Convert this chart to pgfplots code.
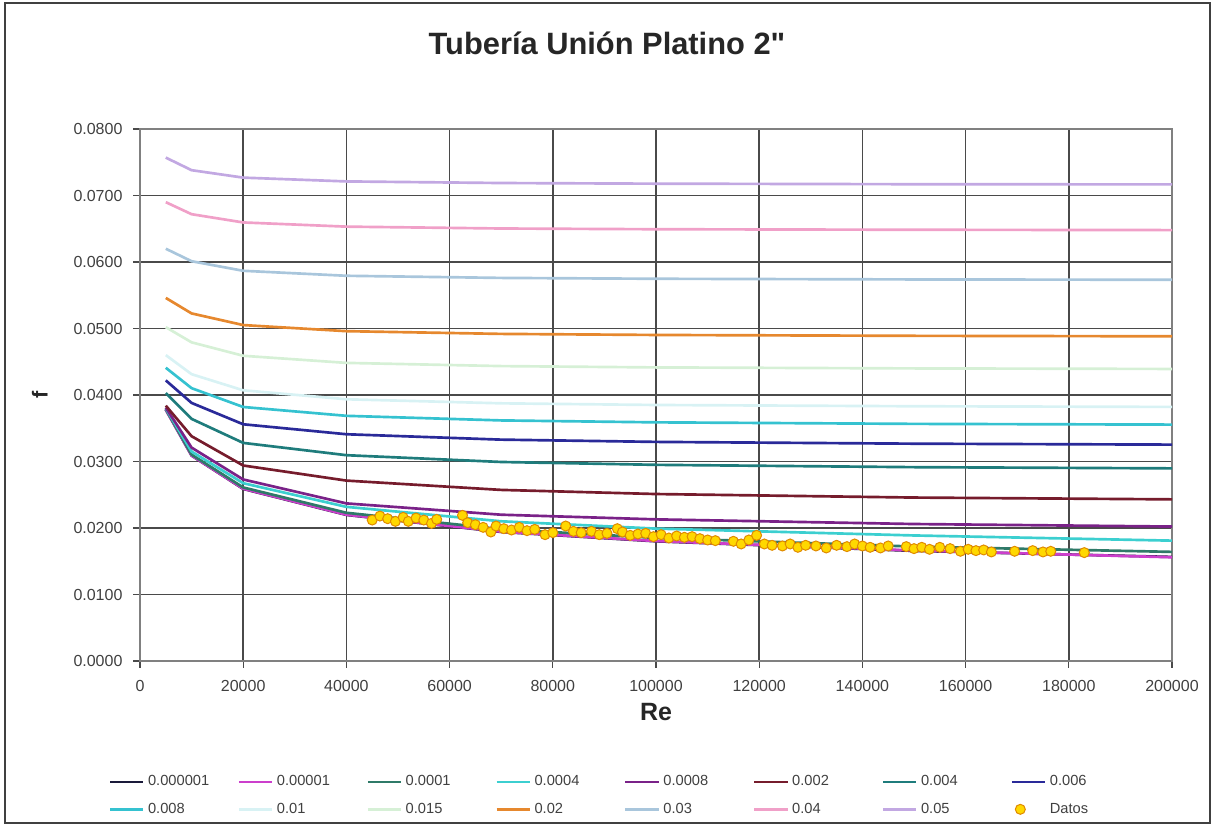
\documentclass[border=0pt]{standalone}
\usepackage{fontspec}
\setmainfont{Liberation Sans}
\usepackage{pgfplots}
\pgfplotsset{compat=1.18}

\definecolor{c1}{HTML}{1A1A3A}
\definecolor{c2}{HTML}{CC3FCC}
\definecolor{c3}{HTML}{2F7A68}
\definecolor{c4}{HTML}{3CCFD0}
\definecolor{c5}{HTML}{7A2288}
\definecolor{c6}{HTML}{761C2C}
\definecolor{c7}{HTML}{1F7C7C}
\definecolor{c8}{HTML}{2A2A99}
\definecolor{c9}{HTML}{35C2D0}
\definecolor{c10}{HTML}{D8F2F4}
\definecolor{c11}{HTML}{D6F0D6}
\definecolor{c12}{HTML}{E6882E}
\definecolor{c13}{HTML}{A9C6DC}
\definecolor{c14}{HTML}{F0A0C8}
\definecolor{c15}{HTML}{C2A8E2}
\definecolor{gridc}{HTML}{4A4A4A}
\definecolor{txt}{HTML}{404040}
\definecolor{datfill}{HTML}{FFD800}
\definecolor{datedge}{HTML}{E08A00}

\pgfplotsset{
  lineleg/.style={legend image code/.code={\draw[##1, line width=1.5pt] (0pt,0pt) -- (20pt,0pt);}},
  dotleg/.style={legend image code/.code={\draw[##1] plot coordinates {(5pt,0pt)};}},
  crv/.style={line width=1.6pt, lineleg},
}

\newcommand{\legtxt}[1]{\makebox[47.8pt][l]{#1}}

\begin{document}
\begin{tikzpicture}
\useasboundingbox (-84pt,-99.6pt) rectangle (644.4pt,396.6pt);
\draw[line width=1.2pt, color=black!75] (-81pt,-97.2pt) rectangle (642pt,394.8pt);
\begin{axis}[
  at={(0pt,0pt)}, anchor=south west,
  scale only axis, width=619.2pt, height=319.2pt,
  xmin=0, xmax=200000, ymin=0, ymax=0.08,
  xtick={0,20000,...,200000},
  ytick={0,0.01,...,0.08},
  xtick pos=bottom, ytick pos=left,
  scaled x ticks=false, scaled y ticks=false,
  xticklabel style={/tikz/yshift=-4pt, /pgf/number format/fixed, /pgf/number format/precision=0, /pgf/number format/1000 sep={}},
  yticklabel style={/tikz/xshift=-3pt, /pgf/number format/fixed, /pgf/number format/fixed zerofill, /pgf/number format/precision=4},
  /pgf/number format/assume math mode=true,
  tick label style={font=\fontsize{9.6}{11}\selectfont, text=txt},
  grid=major,
  major grid style={color=gridc, line width=0.9pt},
  axis line style={color=gray, line width=0.9pt},
  tick align=outside, major tick length=4pt,
  tick style={color=gridc, line width=0.8pt},
  title={Tubería Unión Platino 2\textquotedbl},
  title style={at={(axis description cs:0.4525,1.142)}, anchor=center, font=\fontsize{18.5}{22}\selectfont\bfseries, text=black!85},
  xlabel={Re},
  xlabel style={at={(axis description cs:0.5,-0.096)}, anchor=center, font=\fontsize{15}{18}\selectfont\bfseries, text=black!85},
  ylabel={f},
  ylabel style={at={(axis description cs:-0.097,0.5)}, anchor=center, rotate=0, font=\fontsize{13}{16}\selectfont\bfseries, text=black!85},
  legend columns=8,
  legend style={at={(axis description cs:0.466,-0.253)}, anchor=center, draw=none, fill=none,
    font=\fontsize{8.8}{10}\selectfont, text=txt,
    /tikz/every even column/.append style={column sep=4pt},
    /tikz/every odd column/.append style={column sep=0pt},
    row sep=4.8pt},
]
\addplot[c1, crv] coordinates {(5000,0.0378) (10000,0.03089) (20000,0.02588) (40000,0.02197) (70000,0.01941) (100000,0.01800) (150000,0.01656) (200000,0.01565)};
\addlegendentry{\legtxt{0.000001}}
\addplot[c2, crv] coordinates {(5000,0.0378) (10000,0.03090) (20000,0.02591) (40000,0.02200) (70000,0.01945) (100000,0.01804) (150000,0.01662) (200000,0.01560)};
\addlegendentry{\legtxt{0.00001}}
\addplot[c3, crv] coordinates {(5000,0.0379) (10000,0.03104) (20000,0.02610) (40000,0.02229) (70000,0.01983) (100000,0.01851) (150000,0.01721) (200000,0.01641)};
\addlegendentry{\legtxt{0.0001}}
\addplot[c4, crv] coordinates {(5000,0.0380) (10000,0.03150) (20000,0.02674) (40000,0.02318) (70000,0.02101) (100000,0.01991) (150000,0.01888) (200000,0.01810)};
\addlegendentry{\legtxt{0.0004}}
\addplot[c5, crv] coordinates {(5000,0.0381) (10000,0.03209) (20000,0.02730) (40000,0.02370) (70000,0.02200) (100000,0.02130) (150000,0.02060) (200000,0.02022)};
\addlegendentry{\legtxt{0.0008}}
\addplot[c6, crv] coordinates {(5000,0.0384) (10000,0.03380) (20000,0.02940) (40000,0.02713) (70000,0.02573) (100000,0.02511) (150000,0.02458) (200000,0.02431)};
\addlegendentry{\legtxt{0.002}}
\addplot[c7, crv] coordinates {(5000,0.0403) (10000,0.03641) (20000,0.03280) (40000,0.03095) (70000,0.02993) (100000,0.02950) (150000,0.02915) (200000,0.02897)};
\addlegendentry{\legtxt{0.004}}
\addplot[c8, crv] coordinates {(5000,0.0422) (10000,0.03881) (20000,0.03560) (40000,0.03410) (70000,0.03329) (100000,0.03295) (150000,0.03268) (200000,0.03254)};
\addlegendentry{\legtxt{0.006}}
\addplot[c9, crv] coordinates {(5000,0.0441) (10000,0.04103) (20000,0.03820) (40000,0.03687) (70000,0.03618) (100000,0.03589) (150000,0.03566) (200000,0.03555)};
\addlegendentry{\legtxt{0.008}}
\addplot[c10, crv] coordinates {(5000,0.0460) (10000,0.04313) (20000,0.04071) (40000,0.03936) (70000,0.03875) (100000,0.03850) (150000,0.03831) (200000,0.03821)};
\addlegendentry{\legtxt{0.01}}
\addplot[c11, crv] coordinates {(5000,0.0502) (10000,0.04792) (20000,0.04590) (40000,0.04483) (70000,0.04435) (100000,0.04415) (150000,0.04400) (200000,0.04392)};
\addlegendentry{\legtxt{0.015}}
\addplot[c12, crv] coordinates {(5000,0.0546) (10000,0.05227) (20000,0.05052) (40000,0.04960) (70000,0.04919) (100000,0.04903) (150000,0.04890) (200000,0.04883)};
\addlegendentry{\legtxt{0.02}}
\addplot[c13, crv] coordinates {(5000,0.0620) (10000,0.06012) (20000,0.05868) (40000,0.05793) (70000,0.05761) (100000,0.05748) (150000,0.05738) (200000,0.05733)};
\addlegendentry{\legtxt{0.03}}
\addplot[c14, crv] coordinates {(5000,0.0690) (10000,0.06719) (20000,0.06595) (40000,0.06532) (70000,0.06504) (100000,0.06493) (150000,0.06485) (200000,0.06480)};
\addlegendentry{\legtxt{0.04}}
\addplot[c15, crv] coordinates {(5000,0.0757) (10000,0.07381) (20000,0.07269) (40000,0.07212) (70000,0.07188) (100000,0.07178) (150000,0.07170) (200000,0.07167)};
\addlegendentry{\legtxt{0.05}}
\addplot[only marks, mark=*, mark size=3pt, mark options={fill=datfill, draw=datedge, line width=0.6pt}, dotleg]
coordinates {
(45000,0.0212) (46500,0.0218) (48000,0.0214) (49500,0.0210) (51000,0.0216) (52000,0.0210)
(53500,0.0215) (55000,0.0212) (56500,0.0207) (57500,0.0213) (62500,0.0219) (63500,0.0208)
(65000,0.0205) (66500,0.0201) (68000,0.0194) (69000,0.0203) (70500,0.0199) (72000,0.0197)
(73500,0.0201) (75000,0.0196) (76500,0.0198) (78500,0.0190) (80000,0.0193) (82500,0.0203)
(84000,0.0195) (85500,0.0193) (87500,0.0195) (89000,0.0190) (90500,0.0192) (92500,0.0199)
(93500,0.0194) (95000,0.0189) (96500,0.0191) (98000,0.0192) (99500,0.0187) (101000,0.0190)
(102500,0.0185) (104000,0.0188) (105500,0.0186) (107000,0.0187) (108500,0.0184) (110000,0.0182)
(111500,0.0181) (115000,0.0180) (116500,0.0176) (118000,0.0182) (119500,0.0189) (121000,0.0176)
(122500,0.0174) (124500,0.0173) (126000,0.0176) (127500,0.0171) (129000,0.0174) (131000,0.0173)
(133000,0.0170) (135000,0.0174) (137000,0.0172) (138500,0.0176) (140000,0.0173) (141500,0.0171)
(143500,0.0170) (145000,0.0173) (148500,0.0172) (150000,0.0169) (151500,0.0171) (153000,0.0168)
(155000,0.0171) (157000,0.0169) (159000,0.0165) (160500,0.0168) (162000,0.0166) (163500,0.0167)
(165000,0.0164) (169500,0.0165) (173000,0.0166) (175000,0.0164) (176500,0.0165) (183000,0.0163)
};
\addlegendentry{\legtxt{Datos}}
\end{axis}
\end{tikzpicture}
\end{document}
